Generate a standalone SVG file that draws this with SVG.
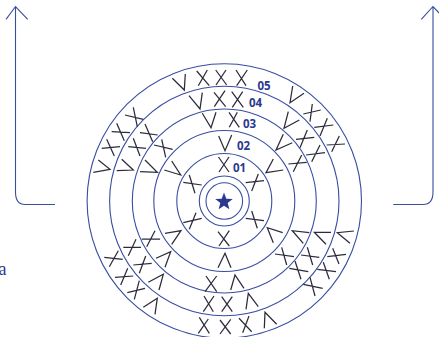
<svg xmlns="http://www.w3.org/2000/svg" width="439" height="337" viewBox="0 0 439 337">
<style>
.r{fill:none;stroke:#3a4da0;stroke-width:1.1}
.m{fill:none;stroke:#2b2b3c;stroke-width:1.25}
.a{fill:none;stroke:#3a4da0;stroke-width:1.1}
.l{font-family:"Open Sans","Noto Sans",sans-serif;font-weight:700;font-size:11.5px;fill:#2b3990}
</style>
<rect width="439" height="337" fill="#fff"/>
<g id="connectors">
<path class="a" d="M55 204.500H25Q15.500 204.500 15.500 192V6.500M6 19.300L15.500 6.500L27.700 19.300"/>
<path class="a" d="M393.300 204.500H423Q433 204.500 433 192V6.500M421.300 19.300L433 6.500L445 19.300"/>
</g>
<g id="rings">
<circle class="r" cx="224.300" cy="201" r="137.200"/>
<circle class="r" cx="224.300" cy="201" r="114.700"/>
<circle class="r" cx="224.300" cy="201" r="92"/>
<circle class="r" cx="224.300" cy="201" r="70.500"/>
<circle class="r" cx="224.300" cy="201" r="47.500"/>
<circle class="r" cx="224.300" cy="201" r="25"/>
<circle class="r" cx="224.300" cy="201" r="18.300"/>
</g>
<g id="center"><polygon fill="#2b3990" points="224,192.600 226.300,198.650 232.750,198.960 227.700,203 229.400,209.240 224,205.700 218.600,209.240 220.300,203 215.250,198.960 221.700,198.650"/></g>
<g id="marks">
<path class="m" d="M172.300 78.300L184.300 90L185.300 74"/>
<path class="m" d="M196.700 71L209.300 85.700M207.300 70L198.300 85.700"/>
<path class="m" d="M215.700 70L226.700 85M226 70L216 85"/>
<path class="m" d="M236 70L246 85.700M247.300 70L236.700 85.700"/>
<path class="m" d="M189 95.700L200 109L202.300 92.700"/>
<path class="m" d="M214 92.300L225.700 106.700M225 90.700L214.300 106.700"/>
<path class="m" d="M231.700 91.700L243.300 107.300M242.700 91.700L232.300 107.300"/>
<path class="m" d="M202.300 113.300L211 127.700L216 112.300"/>
<path class="m" d="M229 112.300L239.300 127.300M237.300 112.300L229.300 127.300"/>
<path class="m" d="M218.700 136L225 150.700L231.700 135"/>
<path class="m" d="M218.500 157L229 172M229 157L219 172"/>
<path class="m" d="M125 115L143.300 119.300M133.300 107.300L137.300 126.700"/>
<path class="m" d="M111.700 131.700L130 132.700M116.700 123.300L124.300 140.700"/>
<path class="m" d="M101.700 148.300L120 146.700M106.700 139.300L114.300 156"/>
<path class="m" d="M98.300 160L110 169.300L93.300 172.300"/>
<path class="m" d="M140 132.700L157.700 135M145 124L152.700 141.700"/>
<path class="m" d="M128.300 146.700L146 148.300M133.300 138.300L140 156"/>
<path class="m" d="M154 145L172.700 149.300M161.700 139.300L165.700 157.300"/>
<path class="m" d="M121.700 159.300L133.300 170L116.700 170.700"/>
<path class="m" d="M145 160L157.300 172.300L140 171.700"/>
<path class="m" d="M171.700 161L180.700 175L164.300 170"/>
<path class="m" d="M183.300 182.300L201.700 185M189.300 175L195 193.300"/>
<path class="m" d="M292.700 86L290 102.700L304 93.300"/>
<path class="m" d="M303.300 114L320.700 110M312.300 104L310 121.700"/>
<path class="m" d="M314.300 127.300L333.300 125M327.300 118.300L320 136"/>
<path class="m" d="M326.700 145L345 144M339.300 136L331.700 151.700"/>
<path class="m" d="M288.300 111.700L284 128.300L299.300 120"/>
<path class="m" d="M283.300 134.300L276 150L292.300 142.700"/>
<path class="m" d="M296 139.300L314.300 137.300M307.300 130L300 147.700"/>
<path class="m" d="M306 155L325 152.700M320 145L311.700 161.700"/>
<path class="m" d="M273.300 159L266 172.700L283.300 170"/>
<path class="m" d="M288.300 164L306.700 162.300M301.700 155L293.300 171.700"/>
<path class="m" d="M245.700 182.700L264 180.700M258.300 174L251.700 191"/>
<path class="m" d="M183.300 222.700L201.700 218.300M196 212.700L189.300 229.300"/>
<path class="m" d="M165 233.300L181 230.700L171.700 244.300"/>
<path class="m" d="M141.700 239L160 239M155 230.700L146.700 246.700"/>
<path class="m" d="M123.300 247.300L141 247.300M136 239.300L128.300 255.700"/>
<path class="m" d="M104.300 257.300L122.700 259.300M118.300 250.700L109.300 266.700"/>
<path class="m" d="M156 258.300L170.700 251.700L165 267.300"/>
<path class="m" d="M133.300 265L151.700 263.300M145.700 256L139.300 273.300"/>
<path class="m" d="M115 277.300L133.300 276M127.700 268.300L120.700 285"/>
<path class="m" d="M148.300 282.300L163.300 274.300L159 290"/>
<path class="m" d="M127.300 292.700L145 288.300M139.300 280.700L134.300 299.300"/>
<path class="m" d="M143.300 307.300L157.300 298.300L155 314.300"/>
<path class="m" d="M218 231.700L229.300 246M229.300 230.700L219 246"/>
<path class="m" d="M218 267.700L225 253.300L231 267.700"/>
<path class="m" d="M206 276L216.700 291.700M216.700 276L205 291.700"/>
<path class="m" d="M230.700 290L235 275L244 288.300"/>
<path class="m" d="M204 296L213.300 311.700M214 296L203.300 311.700"/>
<path class="m" d="M221.700 296.700L232.300 311.700M232.300 296.700L221.700 311.700"/>
<path class="m" d="M246 309.300L248.300 293.300L258.300 306.700"/>
<path class="m" d="M199.300 317.300L209.300 333.300M208.300 319L198.300 333.300"/>
<path class="m" d="M220 320L230.700 334M230.700 319.300L220 334"/>
<path class="m" d="M239 318.300L251.700 331.700M249 316L242.700 332.700"/>
<path class="m" d="M264.300 328.300L265 312.300L276.700 324.300"/>
<path class="m" d="M245.700 218.300L264 220.700M251.700 211L257.300 228.300"/>
<path class="m" d="M273.300 242.700L267.300 227.700L282.700 232.700"/>
<path class="m" d="M303.300 243.300L292.300 230.700L309.300 232.700"/>
<path class="m" d="M326 244.300L314.300 232.300L331 232.300"/>
<path class="m" d="M350 243.300L337.300 232.700L354 231"/>
<path class="m" d="M275 254L294 256.700M281.700 247.300L286.700 265"/>
<path class="m" d="M301 255L319.300 257.300M307.300 247.300L312.700 265"/>
<path class="m" d="M327.300 256.700L346 254.300M332.700 248.300L339 264"/>
<path class="m" d="M289.300 268.300L308.300 271.700M295 261L301 279.300"/>
<path class="m" d="M317.300 269.300L336 271.700M323.300 262.300L329.300 279.300"/>
<path class="m" d="M303.300 284.300L322.700 288.300M310 277.300L315 296"/>
</g>
<g id="labels">
<text class="l" x="257.500" y="89.800">05</text>
<text class="l" x="249" y="107.300">04</text>
<text class="l" x="243" y="128.300">03</text>
<text class="l" x="237" y="150">02</text>
<text class="l" x="233" y="172.300">01</text>
<text x="-1.500" y="274.500" font-family="Liberation Serif,serif" font-size="18" fill="#2b3990">a</text>
</g>
</svg>
